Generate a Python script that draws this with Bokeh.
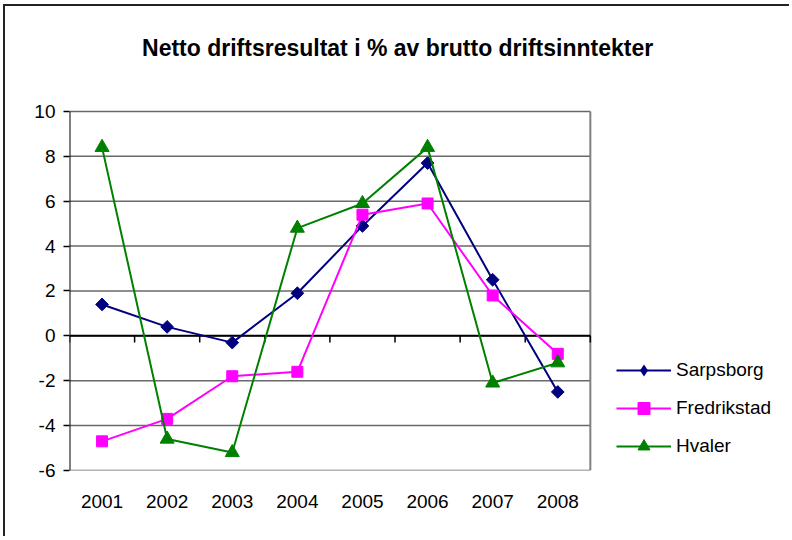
import numpy as np
from bokeh.plotting import figure
from bokeh.models import FixedTicker, Legend, LegendItem
from bokeh.core.properties import value
from bokeh.embed import file_html
from bokeh.resources import INLINE

years = [2001, 2002, 2003, 2004, 2005, 2006, 2007, 2008]
year_labels = ["2001", "2002", "2003", "2004", "2005", "2006", "2007", "2008"]
sarpsborg = [1.4, 0.4, -0.3, 1.9, 4.9, 7.7, 2.5, -2.5]
fredrikstad = [-4.7, -3.7, -1.8, -1.6, 5.4, 5.9, 1.8, -0.8]
hvaler = [8.4, -4.6, -5.2, 4.8, 5.9, 8.4, -2.1, -1.2]
y_ticks = [-6, -4, -2, 0, 2, 4, 6, 8, 10]
title_text = "Netto driftsresultat i % av brutto driftsinntekter"

FONT = "Liberation Sans"

# plot-area extent in data units; the frame extends beyond it to hold title/legend
x_lo, x_hi = years[0] - 0.5, years[-1] + 0.5
y_lo, y_hi = y_ticks[0], y_ticks[-1]
X_MAX = x_hi + 3.09
Y_MAX = 14.5
TITLE_X, TITLE_Y = 2005.54, 12.85

p = figure(width=786, height=532, output_backend="svg", toolbar_location=None,
           x_range=(x_lo, X_MAX), y_range=(y_lo, Y_MAX),
           min_border_left=64, min_border_right=0, min_border_top=4,
           min_border_bottom=68)
p.styles = {"border-left": "2px solid #222222", "border-top": "2px solid #222222",
            "margin-left": "3px", "margin-top": "4px"}
p.title.visible = False
p.outline_line_color = None
p.background_fill_color = "white"
p.grid.grid_line_color = None

# y axis: ticks/labels from the axis, line drawn over the plot area only
p.yaxis.ticker = FixedTicker(ticks=y_ticks)
p.yaxis.major_label_overrides = {t: str(t) for t in y_ticks}
p.yaxis.axis_line_color = None
p.yaxis.major_tick_in = 0
p.yaxis.major_tick_out = 6
p.yaxis.major_tick_line_width = 1.5
p.yaxis.major_tick_line_color = "black"
p.yaxis.minor_tick_line_color = None
p.yaxis.major_label_text_font = FONT
p.yaxis.major_label_text_font_size = "19px"
p.yaxis.major_label_text_color = "black"
p.yaxis.major_label_standoff = 8

# x axis: labels only
p.xaxis.ticker = FixedTicker(ticks=years)
p.xaxis.major_label_overrides = {y: l for y, l in zip(years, year_labels)}
p.xaxis.axis_line_color = None
p.xaxis.major_tick_line_color = None
p.xaxis.minor_tick_line_color = None
p.xaxis.major_label_text_font = FONT
p.xaxis.major_label_text_font_size = "19px"
p.xaxis.major_label_text_color = "black"
p.xaxis.major_label_standoff = 18

# gridlines across the plot area
n = len(y_ticks)
p.segment(x0=[x_lo] * n, x1=[x_hi] * n, y0=y_ticks, y1=y_ticks,
          line_color="#686868", line_width=1.5)
# plot-area right border
p.segment(x0=[x_hi], x1=[x_hi], y0=[y_lo], y1=[y_hi], line_color="#808080", line_width=2)
# value axis line
p.segment(x0=[x_lo], x1=[x_lo], y0=[y_lo], y1=[y_hi], line_color="black", line_width=2)
# category axis at zero, with ticks at category boundaries
p.segment(x0=[x_lo], x1=[x_hi], y0=[0], y1=[0], line_color="black", line_width=2)
bounds = [y - 0.5 for y in years] + [x_hi]
p.segment(x0=bounds, x1=bounds, y0=[0] * len(bounds), y1=[-0.3] * len(bounds),
          line_color="black", line_width=1.5)

# title
p.text(x=[TITLE_X], y=[TITLE_Y], text=[title_text], text_font=value(FONT),
       text_font_size="23px", text_font_style="bold", text_color="black",
       text_align="center", text_baseline="middle")

series = [
    ("Sarpsborg", sarpsborg, "#000080", "square", 9, np.pi / 4),
    ("Fredrikstad", fredrikstad, "#FF00FF", "square", 11, 0),
    ("Hvaler", hvaler, "#008000", "triangle", 14, 0),
]
items = []
for name, vals, col, mk, sz, ang in series:
    l = p.line(years, vals, line_color=col, line_width=2)
    s = p.scatter(years, vals, marker=mk, size=sz, angle=ang,
                  fill_color=col, line_color=col)
    key = s
    if ang != 0:
        # legend swatch: the legend ignores marker angle, so use a diamond key
        # (zero size on the plot, hidden under the rotated squares)
        key = p.scatter(years, vals, marker="diamond", size=0,
                        fill_color=col, line_color=col, line_width=0)
    items.append(LegendItem(label=name, renderers=[l, key]))

legend = Legend(items=items, location=(547, 9))
legend.label_text_font = FONT
legend.label_text_font_size = "19px"
legend.label_text_color = "black"
legend.label_height = 20
legend.glyph_width = 55
legend.glyph_height = 30
legend.spacing = 8
legend.label_standoff = 5
legend.padding = 4
legend.margin = 0
legend.border_line_color = None
legend.background_fill_alpha = 0
p.add_layout(legend, "center")

open("out.html", "w").write(file_html(p, INLINE))
